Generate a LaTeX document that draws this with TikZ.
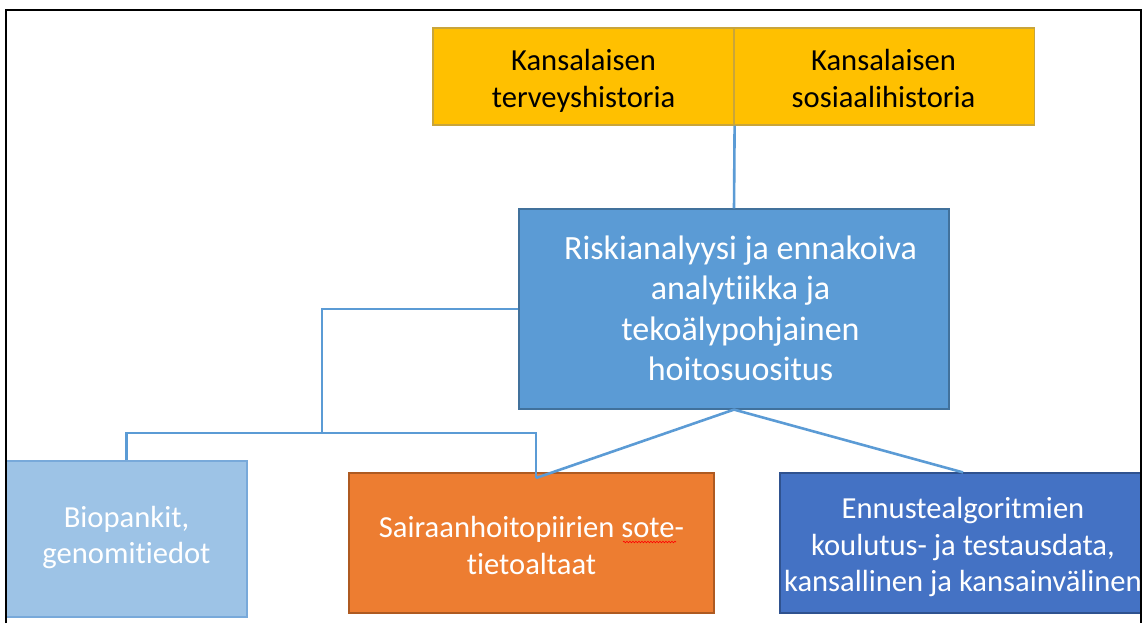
\documentclass[tikz,border=0pt]{standalone}
\usepackage{fontspec}
\setmainfont{Carlito}[Ligatures=NoCommon]
\usetikzlibrary{decorations.pathmorphing}

\definecolor{goldfill}{HTML}{FFC000}
\definecolor{goldline}{HTML}{C9A53A}
\definecolor{midblue}{HTML}{5B9BD5}
\definecolor{midblueline}{HTML}{41719C}
\definecolor{paleblue}{HTML}{9DC3E6}
\definecolor{paleblueline}{HTML}{78A9DA}
\definecolor{orangefill}{HTML}{ED7D31}
\definecolor{orangeline}{HTML}{AE5A21}
\definecolor{deepblue}{HTML}{4472C4}
\definecolor{deepblueline}{HTML}{2F528F}

\tikzset{
  box/.style={draw, line width=1.2pt, rectangle, inner sep=0pt},
  txt/.style={align=center, inner sep=0pt, font=\fontsize{30.6}{36.5}\selectfont},
  link/.style={draw=midblue, line width=2.6pt},
}

\begin{document}
\begin{tikzpicture}[x=1pt, y=-1pt]
  \useasboundingbox (0,0) rectangle (1147,623);

  % source records
  \node[box, fill=goldfill, draw=goldline, minimum width=301pt, minimum height=97pt]
    (health) at (583.5,76.5) {};
  \node[box, fill=goldfill, draw=goldline, minimum width=300pt, minimum height=97pt]
    (social) at (884.5,76.5) {};
  \node[txt, text=black] (healthtxt) at (583.5,81.5)
    {\strut Kansalaisen\\\strut terveyshistoria};
  \node[txt, text=black] (socialtxt) at (883.5,81.5)
    {\strut Kansalaisen\\\strut sosiaalihistoria};

  % analytics core
  \node[box, fill=midblue, draw=midblueline, minimum width=430pt, minimum height=200pt]
    (risk) at (734,309) {};
  \node[txt, text=white, font=\fontsize{34}{40.5}\selectfont] (risktxt) at (740.5,312)
    {\strut Riskianalyysi ja ennakoiva\\\strut analytiikka ja\\\strut tekoälypohjainen\\\strut hoitosuositus};

  % data pools
  \node[box, fill=paleblue, draw=paleblueline, minimum width=241pt, minimum height=156pt]
    (bio) at (126.5,539) {};
  \node[txt, text=white, font=\fontsize{30.6}{36}\selectfont] (biotxt) at (126.5,538)
    {\strut Biopankit,\\\strut genomitiedot};

  \node[box, fill=orangefill, draw=orangeline, minimum width=365pt, minimum height=140pt]
    (sote) at (531.5,543) {};
  \node[txt, text=white, font=\fontsize{30.6}{37}\selectfont] (sotetxt) at (531.5,549)
    {\strut Sairaanhoitopiirien sote-\\\strut tietoaltaat};

  \begin{scope}
    \clip (0,0) rectangle (1140,623);
    \node[box, fill=deepblue, draw=deepblueline, minimum width=366pt, minimum height=140pt]
      (ennuste) at (963,543) {};
    \node[txt, text=white] (ennustetxt) at (963,548)
      {\strut Ennustealgoritmien\\\strut koulutus- ja testausdata,\\\strut kansallinen ja kansainvälinen};
  \end{scope}

  % spelling mark under "sote"
  \draw[red, line width=0.6pt, decorate,
        decoration={snake, amplitude=0.8pt, segment length=3pt}]
    (623,542) -- (676,542);

  % connectors
  \coordinate (hub) at (322,433);
  \coordinate (soteend) at (536,478);
  \path[link] (health.south east) -- (risk.north);
  \path[link] (risk.west) -| (hub);
  \path[link] (bio.north) |- (hub) -| (soteend);
  \path[link] (risk.south) -- (soteend);
  \path[link] (risk.south) -- (ennuste.north);

  % outer frame
  \draw[black, line width=2.4pt] (6,623) -- (6,10) -- (1141,10) -- (1141,623);
\end{tikzpicture}
\end{document}
